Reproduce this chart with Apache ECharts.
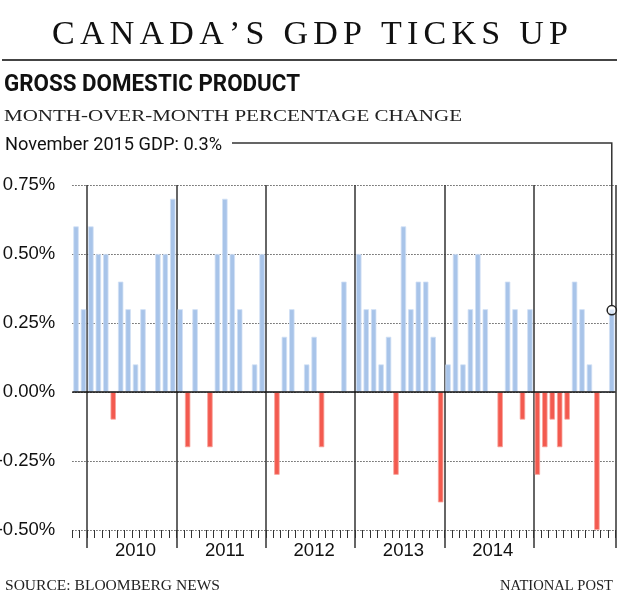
<!DOCTYPE html>
<html>
<head>
<meta charset="utf-8">
<script src="https://cdn.jsdelivr.net/npm/echarts@6/dist/echarts.min.js"></script>
<style>html,body{margin:0;padding:0;background:#fff}#c{width:620px;height:600px}</style>
</head>
<body>
<div id="c"></div>
<script>
// ---------- texts ----------
const TITLE = 'CANADA\u2019S GDP TICKS UP';
const HEADING = 'GROSS DOMESTIC PRODUCT';
const SUBTITLE = 'MONTH-OVER-MONTH PERCENTAGE CHANGE';
const CALLOUT = 'November 2015 GDP: 0.3%';
const SOURCE = 'SOURCE: BLOOMBERG NEWS';
const CREDIT = 'NATIONAL POST';

// ---------- data ----------
const months = [
  'Nov 2009','Dec 2009',
  'Jan 2010','Feb 2010','Mar 2010','Apr 2010','May 2010','Jun 2010','Jul 2010','Aug 2010','Sep 2010','Oct 2010','Nov 2010','Dec 2010',
  'Jan 2011','Feb 2011','Mar 2011','Apr 2011','May 2011','Jun 2011','Jul 2011','Aug 2011','Sep 2011','Oct 2011','Nov 2011','Dec 2011',
  'Jan 2012','Feb 2012','Mar 2012','Apr 2012','May 2012','Jun 2012','Jul 2012','Aug 2012','Sep 2012','Oct 2012','Nov 2012','Dec 2012',
  'Jan 2013','Feb 2013','Mar 2013','Apr 2013','May 2013','Jun 2013','Jul 2013','Aug 2013','Sep 2013','Oct 2013','Nov 2013','Dec 2013',
  'Jan 2014','Feb 2014','Mar 2014','Apr 2014','May 2014','Jun 2014','Jul 2014','Aug 2014','Sep 2014','Oct 2014','Nov 2014','Dec 2014',
  'Jan 2015','Feb 2015','Mar 2015','Apr 2015','May 2015','Jun 2015','Jul 2015','Aug 2015','Sep 2015','Oct 2015','Nov 2015'
];
const gdpChange = [
  0.6, 0.3,
  0.6, 0.5, 0.5, -0.1, 0.4, 0.3, 0.1, 0.3, 0, 0.5, 0.5, 0.7,
  0.3, -0.2, 0.3, 0, -0.2, 0.5, 0.7, 0.5, 0.3, 0, 0.1, 0.5,
  0, -0.3, 0.2, 0.3, 0, 0.1, 0.2, -0.2, 0, 0, 0.4, 0,
  0.5, 0.3, 0.3, 0.1, 0.2, -0.3, 0.6, 0.3, 0.4, 0.4, 0.2, -0.4,
  0.1, 0.5, 0.1, 0.3, 0.5, 0.3, 0, -0.2, 0.4, 0.3, -0.1, 0.3,
  -0.3, -0.2, -0.1, -0.2, -0.1, 0.4, 0.3, 0.1, -0.5, 0, 0.3
];
const yearLabels = ['2010', '2011', '2012', '2013', '2014'];
const yTicks = [-0.5, -0.25, 0, 0.25, 0.5, 0.75];

// ---------- styles ----------
const SERIF = '"Liberation Serif", "Times New Roman", serif';
const SANS = '"Liberation Sans", Arial, sans-serif';
const COND = 'Roboto, "Liberation Sans", sans-serif';
const BLUE = '#a8c4e9', BLUE_EDGE = '#d0e0f5';
const RED = '#f35a4f', RED_EDGE = '#f8a39c';

const mctx = document.createElement('canvas').getContext('2d');
function measure(str, font) { mctx.font = font; return mctx.measureText(str).width; }

function fitText(str, x, y, size, family, weight, target, align, fill) {
  const w = measure(str, `${weight} ${size}px ${family}`);
  return {
    type: 'text', x: x, y: y, scaleX: target / w, scaleY: 1, silent: true,
    style: {
      text: str, x: 0, y: 0, fontSize: size, fontFamily: family, fontWeight: weight,
      fill: fill, align: align, textAlign: align, verticalAlign: 'middle', textVerticalAlign: 'middle'
    }
  };
}

function spacedText(str, x, y, size, family, target, fill) {
  const chars = str.split('');
  let w = 0;
  chars.forEach(c => { w += measure(c, `normal ${size}px ${family}`); });
  const s = (target - w) / (chars.length - 1);
  return {
    type: 'text', x: x, y: y, silent: true,
    style: {
      text: chars.map(c => '{t|' + c + '}').join(''),
      x: 0, y: 0, align: 'center', textAlign: 'center', verticalAlign: 'middle', textVerticalAlign: 'middle',
      rich: { t: { fontSize: size, fontFamily: family, fill: fill, padding: [0, s / 2, 0, s / 2] } }
    }
  };
}

const isJan = v => v.indexOf('Jan') === 0;
const yearOf = v => v.slice(4);

const chart = echarts.init(document.getElementById('c'), null, { renderer: 'canvas' });

const GRID = { left: 72.3, right: 4.5, top: 185, bottom: 70, containLabel: false, outerBoundsMode: 'none' };
const baseX = { type: 'category', data: months, boundaryGap: true, position: 'bottom', axisLine: { show: false, onZero: false } };
const yRange = { type: 'value', min: yTicks[0], max: yTicks[yTicks.length - 1], interval: 0.25 };

const option = {
  animation: false,
  grid: [Object.assign({}, GRID), Object.assign({}, GRID)],
  xAxis: [
    Object.assign({}, baseX, {
      gridIndex: 0,
      axisTick: { show: true, interval: 0, length: 8, lineStyle: { color: '#333', width: 1 } },
      axisLabel: {
        interval: (i, v) => v.indexOf('Jul') === 0 && yearLabels.indexOf(yearOf(v)) >= 0,
        formatter: v => yearOf(v),
        fontSize: 18.5, fontFamily: SANS, color: '#111', margin: 11
      },
      splitLine: { show: false }
    }),
    Object.assign({}, baseX, {
      gridIndex: 1,
      axisTick: { show: true, interval: (i, v) => isJan(v), length: 18, lineStyle: { color: '#333', width: 1.5 } },
      axisLabel: { show: false },
      splitLine: { show: true, interval: (i, v) => isJan(v), lineStyle: { color: '#333', width: 1.5, type: 'solid' } }
    })
  ],
  yAxis: [
    Object.assign({}, yRange, {
      gridIndex: 0,
      axisLine: { show: false }, axisTick: { show: false },
      axisLabel: { formatter: v => v.toFixed(2) + '%', fontSize: 18.5, fontFamily: SANS, color: '#111', margin: 17 },
      splitLine: { show: true, lineStyle: { color: '#444', width: 1, type: [1.3, 1.7] } }
    }),
    Object.assign({}, yRange, {
      gridIndex: 1,
      axisLine: { show: false }, axisTick: { show: false }, axisLabel: { show: false }, splitLine: { show: false }
    })
  ],
  series: [{
    type: 'bar', xAxisIndex: 0, yAxisIndex: 0, barWidth: 5.4,
    data: gdpChange.map(v => ({
      value: v,
      itemStyle: v < 0 ? { color: RED, borderColor: RED_EDGE, borderWidth: 0.8 }
                       : { color: BLUE, borderColor: BLUE_EDGE, borderWidth: 0.8 }
    })),
    markLine: {
      silent: true, symbol: ['none', 'none'], label: { show: false }, animation: false,
      lineStyle: { color: '#111', width: 1.5, type: 'solid' },
      data: [{ yAxis: 0 }]
    }
  }]
};
chart.setOption(option);

const last = gdpChange.length - 1;
const pt = chart.convertToPixel({ seriesIndex: 0 }, [last, gdpChange[last]]);
const px = pt[0], py = pt[1];
const leaderY = 143;

chart.setOption({
  graphic: [
    spacedText(TITLE, 310, 35.5, 34, SERIF, 516, '#111'),
    { type: 'line', silent: true, shape: { x1: 2, y1: 60, x2: 617, y2: 60 }, style: { stroke: '#444', lineWidth: 2 } },
    fitText(HEADING, 4, 85.5, 23, COND, 'bold', 296, 'left', '#111'),
    fitText(SUBTITLE, 4, 117, 17, SERIF, 'normal', 458, 'left', '#222'),
    fitText(CALLOUT, 5, 145, 18, COND, 'normal', 217, 'left', '#111'),
    { type: 'polyline', silent: true, shape: { points: [[232, leaderY], [px, leaderY], [px, py - 4]] },
      style: { stroke: '#333', lineWidth: 1.5, fill: null } },
    { type: 'circle', silent: true, z: 100, shape: { cx: px, cy: py + 1, r: 4.6 },
      style: { stroke: '#222', lineWidth: 1.5, fill: 'rgba(255,255,255,0.55)' } },
    fitText(SOURCE, 5, 586, 14.5, SERIF, 'normal', 215, 'left', '#222'),
    fitText(CREDIT, 613, 586, 14.5, SERIF, 'normal', 113, 'right', '#222')
  ]
});
</script>
</body>
</html>
